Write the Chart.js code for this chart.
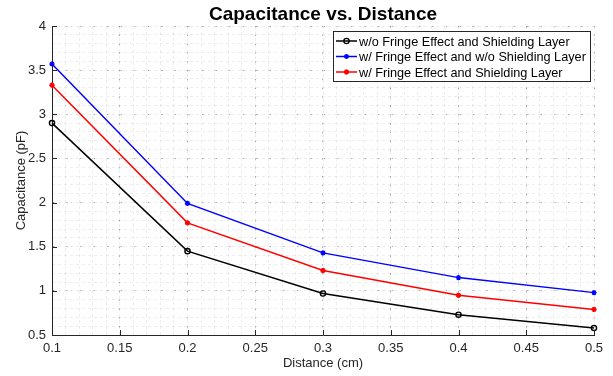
<!DOCTYPE html>
<html>
<head>
<meta charset="utf-8">
<script src="https://cdn.jsdelivr.net/npm/chart.js"></script>
<style>
  html, body { margin: 0; padding: 0; background: #fff; }
  #wrap { width: 613px; height: 376px; }
</style>
</head>
<body>
<div id="wrap"><canvas id="myChart" width="613" height="376"></canvas></div>
<script>
const distances = [0.1, 0.2, 0.3, 0.4, 0.5];
const noFringeNoShield = [2.90, 1.45, 0.97, 0.73, 0.58];
const fringeNoShield = [3.57, 1.99, 1.43, 1.15, 0.98];
const fringeShield = [3.33, 1.77, 1.23, 0.95, 0.79];
const seriesLabels = [
  "w/o Fringe Effect and Shielding Layer",
  "w/ Fringe Effect and w/o Shielding Layer",
  "w/ Fringe Effect and Shielding Layer"
];
const xTicks = [0.1, 0.15, 0.2, 0.25, 0.3, 0.35, 0.4, 0.45, 0.5];
const yTicks = [0.5, 1, 1.5, 2, 2.5, 3, 3.5, 4];

const fontFamily = "'Liberation Sans', Arial, sans-serif";
const axisColor = "#262626";

function toPoints(ys) {
  return ys.map((y, i) => ({ x: distances[i], y: y }));
}

// ticks pointing into the plot, MATLAB style
const inwardTicks = {
  id: "inwardTicks",
  afterDatasetsDraw(chart) {
    const ctx = chart.ctx;
    const area = chart.chartArea;
    const x = chart.scales.x;
    const y = chart.scales.y;
    ctx.save();
    ctx.strokeStyle = axisColor;
    ctx.lineWidth = 1;
    ctx.beginPath();
    xTicks.forEach(v => {
      const px = Math.round(x.getPixelForValue(v)) + 0.5;
      ctx.moveTo(px, area.bottom);
      ctx.lineTo(px, area.bottom - 5);
    });
    yTicks.forEach(v => {
      const py = Math.round(y.getPixelForValue(v)) + 0.5;
      ctx.moveTo(area.left, py);
      ctx.lineTo(area.left + 5, py);
    });
    ctx.stroke();
    ctx.restore();
  }
};

function drawMarker(ctx, ds, cx, cy) {
  const h = Chart.helpers;
  ctx.save();
  ctx.strokeStyle = ds.borderColor;
  ctx.fillStyle = ds.pointBackgroundColor;
  ctx.lineWidth = ds.pointBorderWidth;
  if (h && h.drawPoint) {
    h.drawPoint(ctx, { pointStyle: ds.pointStyle, radius: ds.pointRadius, rotation: 0, borderWidth: ds.pointBorderWidth }, cx, cy);
  } else {
    ctx.beginPath();
    ctx.arc(cx, cy, ds.pointRadius, 0, Math.PI * 2);
    ctx.fill();
    ctx.stroke();
  }
  ctx.restore();
}

// boxed legend inside the plot, top right
const boxLegend = {
  id: "boxLegend",
  afterDraw(chart) {
    const ctx = chart.ctx;
    const left = 333.5, top = 31.5, right = 590.5, bottom = 81.5;
    ctx.save();
    ctx.fillStyle = "#fff";
    ctx.fillRect(left, top, right - left, bottom - top);
    ctx.strokeStyle = axisColor;
    ctx.lineWidth = 1;
    ctx.strokeRect(left, top, right - left, bottom - top);
    ctx.font = "12.7px " + fontFamily;
    ctx.textBaseline = "middle";
    ctx.textAlign = "left";
    const rows = [41, 56.5, 72];
    chart.data.datasets.forEach((ds, i) => {
      const cy = rows[i];
      ctx.strokeStyle = ds.borderColor;
      ctx.lineWidth = ds.borderWidth;
      ctx.beginPath();
      ctx.moveTo(336, cy);
      ctx.lineTo(357, cy);
      ctx.stroke();
      drawMarker(ctx, ds, 346.5, cy);
      ctx.fillStyle = "#000";
      ctx.fillText(ds.label, 359, cy + 1);
    });
    ctx.restore();
  }
};

const ctx = document.getElementById("myChart").getContext("2d");
const myChart = new Chart(ctx, {
  type: "line",
  data: {
    datasets: [
      {
        label: seriesLabels[0],
        data: toPoints(noFringeNoShield),
        borderColor: "#000000",
        pointBackgroundColor: "rgba(255,255,255,0)",
        pointStyle: "circle",
        pointRadius: 2.6,
        pointBorderWidth: 1.4,
        borderWidth: 1.5
      },
      {
        label: seriesLabels[1],
        data: toPoints(fringeNoShield),
        borderColor: "#0000ff",
        pointBackgroundColor: "#0000ff",
        pointStyle: "star",
        pointRadius: 2.6,
        pointBorderWidth: 1.4,
        borderWidth: 1.5
      },
      {
        label: seriesLabels[2],
        data: toPoints(fringeShield),
        borderColor: "#ff0000",
        pointBackgroundColor: "#ff0000",
        pointStyle: "circle",
        pointRadius: 2.2,
        pointBorderWidth: 1,
        borderWidth: 1.5
      }
    ]
  },
  options: {
    responsive: false,
    animation: false,
    devicePixelRatio: 1,
    clip: false,
    layout: { padding: { left: 0, right: 19, top: 0, bottom: 0 } },
    elements: { line: { tension: 0 } },
    plugins: {
      legend: { display: false },
      tooltip: { enabled: false },
      title: {
        display: true,
        text: "Capacitance vs. Distance",
        fullSize: false,
        color: "#000",
        font: { family: fontFamily, size: 19, weight: "bold" },
        padding: { top: 3, bottom: 0.2 }
      }
    },
    scales: {
      xMinor: {
        type: "linear",
        position: "bottom",
        min: 0.1,
        max: 0.5,
        afterBuildTicks(s) {
          const t = [];
          for (let i = 0; i <= 40; i++) t.push({ value: 0.1 + i * 0.01 });
          s.ticks = t;
        },
        afterFit(s) { s.height = 0; },
        ticks: { display: false },
        grid: { color: "rgba(0,0,0,0.07)", drawTicks: false },
        border: { display: false, dash: [3, 3] }
      },
      yMinor: {
        type: "linear",
        position: "left",
        min: 0.5,
        max: 4,
        afterBuildTicks(s) {
          const t = [];
          for (let i = 0; i <= 35; i++) t.push({ value: 0.5 + i * 0.1 });
          s.ticks = t;
        },
        afterFit(s) { s.width = 0; },
        ticks: { display: false },
        grid: { color: "rgba(0,0,0,0.07)", drawTicks: false },
        border: { display: false, dash: [3, 3] }
      },
      x: {
        type: "linear",
        position: "bottom",
        min: 0.1,
        max: 0.5,
        afterBuildTicks(s) { s.ticks = xTicks.map(v => ({ value: v })); },
        afterFit(s) { s.height = 41; },
        ticks: {
          color: axisColor,
          font: { family: fontFamily, size: 13 },
          padding: 6,
          maxRotation: 0,
          autoSkip: false,
          callback: v => String(+v.toFixed(2))
        },
        grid: { color: "rgba(0,0,0,0.35)", drawTicks: false },
        border: { display: true, color: axisColor, width: 1, dash: [1.2, 7.63] },
        title: {
          display: true,
          text: "Distance (cm)",
          color: axisColor,
          font: { family: fontFamily, size: 13 },
          padding: { top: 0, bottom: 5 }
        }
      },
      y: {
        type: "linear",
        position: "left",
        min: 0.5,
        max: 4,
        afterBuildTicks(s) { s.ticks = yTicks.map(v => ({ value: v })); },
        afterFit(s) { s.width = 52; },
        ticks: {
          color: axisColor,
          font: { family: fontFamily, size: 13 },
          padding: 6,
          autoSkip: false,
          callback: v => String(+v.toFixed(2))
        },
        grid: { color: "rgba(0,0,0,0.35)", drawTicks: false },
        border: { display: true, color: axisColor, width: 1, dash: [1.2, 12.35] },
        title: {
          display: true,
          text: "Capacitance (pF)",
          color: axisColor,
          font: { family: fontFamily, size: 13 },
          padding: { top: 14, bottom: 0 }
        }
      }
    }
  },
  plugins: [inwardTicks, boxLegend]
});
</script>
</body>
</html>
